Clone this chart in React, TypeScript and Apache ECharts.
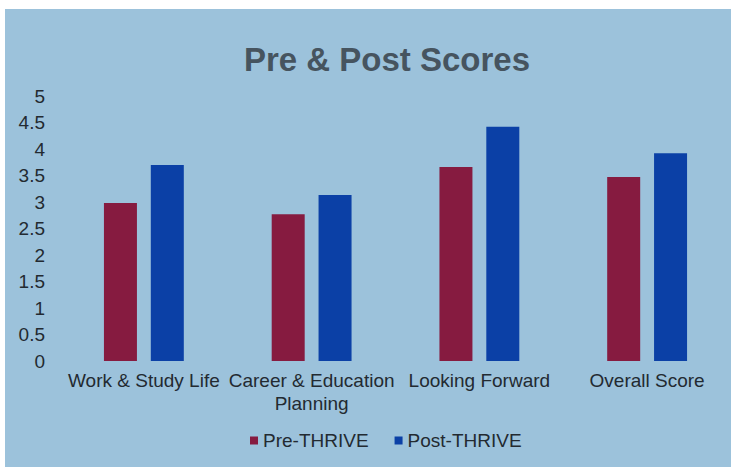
import React, { useEffect, useRef } from "react";
import * as echarts from "echarts";

const categories = [
  "Work & Study Life",
  "Career & Education Planning",
  "Looking Forward",
  "Overall Score",
];
const preThrive = [2.98, 2.77, 3.66, 3.47];
const postThrive = [3.7, 3.13, 4.42, 3.92];
const seriesNames = ["Pre-THRIVE", "Post-THRIVE"];

const FONT = "'Liberation Sans', Arial, sans-serif";

export default function App() {
  const ref = useRef<HTMLDivElement>(null);
  useEffect(() => {
    if (!ref.current) return;
    const chart = echarts.init(ref.current, null, { renderer: "svg" });
    chart.setOption({
      animation: false,
      backgroundColor: "#9cc2db",
      textStyle: { fontFamily: FONT },
      title: {
        text: "Pre & Post Scores",
        left: 377,
        textAlign: "center",
        top: 29,
        textStyle: {
          fontFamily: FONT,
          fontSize: 33,
          fontWeight: "bold",
          color: "#46545f",
        },
      },
      legend: {
        data: seriesNames,
        left: 245,
        top: 422,
        padding: 0,
        icon: "rect",
        itemWidth: 8,
        itemHeight: 8,
        itemGap: 26,
        textStyle: { fontFamily: FONT, fontSize: 19, color: "#232a31" },
      },
      grid: { left: 55, top: 87, width: 683, height: 265 },
      xAxis: {
        type: "category",
        data: categories,
        axisLine: { show: false },
        axisTick: { show: false },
        axisLabel: {
          interval: 0,
          margin: 8,
          fontFamily: FONT,
          fontSize: 19,
          lineHeight: 23,
          color: "#232a31",
          formatter: (v: string) => v.replace(" Planning", "\nPlanning"),
        },
      },
      yAxis: {
        type: "value",
        min: 0,
        max: 5,
        interval: 0.5,
        splitLine: { show: false },
        axisLine: { show: false },
        axisTick: { show: false },
        axisLabel: {
          margin: 15,
          fontFamily: FONT,
          fontSize: 19,
          color: "#232a31",
        },
      },
      series: [
        {
          name: seriesNames[0],
          type: "bar",
          data: preThrive,
          barWidth: 33,
          barGap: "42%",
          itemStyle: { color: "#861b40" },
        },
        {
          name: seriesNames[1],
          type: "bar",
          data: postThrive,
          barWidth: 33,
          itemStyle: { color: "#0b40a6" },
        },
      ],
    });
    return () => chart.dispose();
  }, []);
  return (
    <div
      style={{
        position: "fixed",
        left: 0,
        top: 0,
        width: 731,
        height: 469,
        background: "#ffffff",
      }}
    >
      <div
        ref={ref}
        style={{
          position: "absolute",
          left: 5,
          top: 9,
          width: 726,
          height: 458,
        }}
      />
    </div>
  );
}
